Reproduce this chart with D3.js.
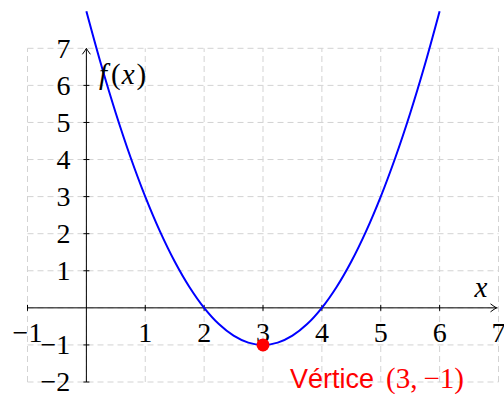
<!DOCTYPE html>
<html>
<head>
<meta charset="utf-8">
<script src="https://cdn.jsdelivr.net/npm/d3@7"></script>
<style>
  body { margin: 0; background: #fff; }
  svg { display: block; }
</style>
</head>
<body>
<div id="chart"></div>
<script>
// data
var xTicks = [-1, 1, 2, 3, 4, 5, 6, 7];
var yTicks = [-2, -1, 1, 2, 3, 4, 5, 6, 7];
var gridX = [-1, 0, 1, 2, 3, 4, 5, 6, 7];
var gridY = [-2, -1, 0, 1, 2, 3, 4, 5, 6, 7];
var curveX = [0, 0.25, 0.5, 0.75, 1, 1.25, 1.5, 1.75, 2, 2.25, 2.5, 2.75, 3, 3.25, 3.5, 3.75, 4, 4.25, 4.5, 4.75, 5, 5.25, 5.5, 5.75, 6];
var curveY = [8, 6.5625, 5.25, 4.0625, 3, 2.0625, 1.25, 0.5625, 0, -0.4375, -0.75, -0.9375, -1, -0.9375, -0.75, -0.4375, 0, 0.5625, 1.25, 2.0625, 3, 4.0625, 5.25, 6.5625, 8];
var vertex = [3, -1];

var width = 504, height = 394;
var svg = d3.select("#chart").append("svg")
  .attr("width", width).attr("height", height);

var x = d3.scaleLinear().domain([-1, 7]).range([27.5, 498.5]);
var y = d3.scaleLinear().domain([-2, 7]).range([382, 48.3]);

var serif = "'Liberation Serif', 'DejaVu Serif', serif";

// grid
var grid = svg.append("g")
  .attr("stroke", "#d3d3d3")
  .attr("stroke-width", 1)
  .attr("stroke-dasharray", "6,4");
grid.selectAll(".gx").data(gridX).enter().append("line")
  .attr("x1", d => x(d)).attr("x2", d => x(d))
  .attr("y1", y(-2)).attr("y2", y(7));
grid.selectAll(".gy").data(gridY).enter().append("line")
  .attr("x1", x(-1)).attr("x2", x(7))
  .attr("y1", d => y(d)).attr("y2", d => y(d));

// axes
var axes = svg.append("g").attr("stroke", "#000").attr("stroke-width", 1).attr("fill", "none");
axes.append("line").attr("x1", x(-1)).attr("x2", x(7) - 1).attr("y1", y(0)).attr("y2", y(0));
axes.append("line").attr("x1", x(0)).attr("x2", x(0)).attr("y1", y(-2)).attr("y2", y(7) + 1);
// arrow heads
var ax = x(7) - 2, ay = y(0);
axes.append("path").attr("d", "M" + (ax - 6) + "," + (ay - 4) + " Q" + (ax - 2) + "," + (ay - 1) + " " + ax + "," + ay + " Q" + (ax - 2) + "," + (ay + 1) + " " + (ax - 6) + "," + (ay + 4));
var bx = x(0), by = y(7);
axes.append("path").attr("d", "M" + (bx - 4) + "," + (by + 6) + " Q" + (bx - 1) + "," + (by + 2) + " " + bx + "," + by + " Q" + (bx + 1) + "," + (by + 2) + " " + (bx + 4) + "," + (by + 6));

// ticks
axes.selectAll(".tx").data(xTicks.filter(d => d < 7)).enter().append("line")
  .attr("x1", d => x(d)).attr("x2", d => x(d))
  .attr("y1", y(0) - 3).attr("y2", y(0) + 3);
axes.selectAll(".ty").data(yTicks.filter(d => d < 7)).enter().append("line")
  .attr("x1", x(0) - 3).attr("x2", x(0) + 3)
  .attr("y1", d => y(d)).attr("y2", d => y(d));

function fmt(d) { return d < 0 ? "\u2212" + Math.abs(d) : String(d); }

// tick labels
svg.selectAll(".lx").data(xTicks).enter().append("text")
  .attr("x", d => x(d)).attr("y", y(0) + 34)
  .attr("text-anchor", "middle")
  .attr("font-family", serif).attr("font-size", 28)
  .text(fmt);
svg.selectAll(".ly").data(yTicks).enter().append("text")
  .attr("x", x(0) - 16).attr("y", d => y(d)).attr("dy", "0.33em")
  .attr("text-anchor", "end")
  .attr("font-family", serif).attr("font-size", 28)
  .text(fmt);

// curve
var pts = curveX.map((d, i) => [d, curveY[i]]);
svg.append("path")
  .datum(pts)
  .attr("fill", "none")
  .attr("stroke", "#0000ff")
  .attr("stroke-width", 2)
  .attr("d", d3.line().x(d => x(d[0])).y(d => y(d[1])).curve(d3.curveCatmullRom));

// vertex
svg.append("circle")
  .attr("cx", x(vertex[0])).attr("cy", y(vertex[1])).attr("r", 6.5)
  .attr("fill", "#ff0000");

var vt = svg.append("text")
  .attr("x", 290).attr("y", 388)
  .attr("fill", "#ff0000");
vt.append("tspan").attr("font-family", "'Liberation Sans', Arial, sans-serif").attr("font-size", 27).text("Vértice");
vt.append("tspan").attr("dx", 12).attr("font-family", serif).attr("font-size", 29).text("(" + vertex[0] + ",");
vt.append("tspan").attr("dx", 6).attr("font-family", serif).attr("font-size", 29).text(fmt(vertex[1]) + ")");

// axis labels
var fl = svg.append("text").attr("x", 99).attr("y", 84)
  .attr("font-family", serif).attr("font-size", 29);
fl.append("tspan").attr("font-style", "italic").text("f");
fl.append("tspan").attr("dx", 4).text("(");
fl.append("tspan").attr("dx", 1).attr("font-style", "italic").text("x");
fl.append("tspan").attr("dx", 2).text(")");
svg.append("text").attr("x", 481).attr("y", 297).attr("text-anchor", "middle")
  .attr("font-family", serif).attr("font-style", "italic").attr("font-size", 29)
  .text("x");
</script>
</body>
</html>
